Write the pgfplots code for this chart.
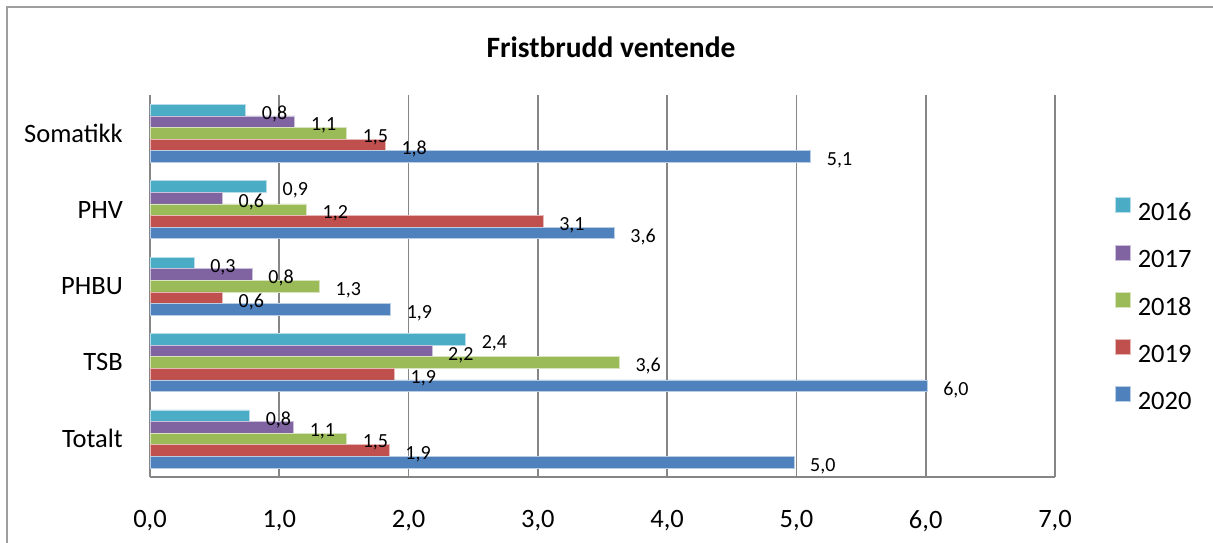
\documentclass[border=0pt]{standalone}
\usepackage{fontspec}
\setmainfont{Carlito}
\usepackage{pgfplots}
\pgfplotsset{compat=1.18}
\definecolor{c16}{HTML}{4BACC6}
\definecolor{c17}{HTML}{8064A2}
\definecolor{c18}{HTML}{9BBB59}
\definecolor{c19}{HTML}{C0504D}
\definecolor{c20}{HTML}{4F81BD}
\definecolor{gridgray}{HTML}{868686}
\newcommand{\bigfont}{\fontsize{26.5}{30}\selectfont}
\newcommand{\labfont}{\fontsize{20}{23}\selectfont}

\begin{document}
\begin{tikzpicture}[x=1pt,y=1pt]
\path[use as bounding box] (0,0) rectangle (1213,-543);
% frame of the chart area
\draw[gridgray!80, line width=1.5pt] (7,-560) -- (7,-7) -- (1230,-7);
\node[font=\fontsize{29.5}{34}\selectfont\bfseries, anchor=center] at (611,-47) {Fristbrudd ventende};

\begin{axis}[
    at={(150pt,-477pt)}, anchor=south west,
    scale only axis,
    width=905pt, height=382pt,
    xbar, bar width=11.6pt,
    xmin=0, xmax=7,
    ymin=-0.5, ymax=4.5,
    axis x line*=bottom, axis y line*=left,
    axis line style={gridgray, line width=1.5pt, -},
    xmajorgrids,
    major grid style={gridgray, line width=1.6pt},
    major tick length=0pt,
    xtick={0,1,...,7},
    ytick={0,1,2,3,4},
    yticklabels={Totalt, TSB, PHBU, PHV, Somatikk},
    /pgf/number format/.cd, fixed, fixed zerofill, precision=1, use comma, assume math mode=true,
    /pgfplots/.cd,
    xticklabel style={font=\bigfont, inner sep=0pt, anchor=north, yshift=-33pt},
    yticklabel style={font=\bigfont, inner sep=0pt, anchor=east, xshift=-27pt},
    point meta=explicit symbolic,
    nodes near coords,
    nodes near coords align={horizontal},
    every node near coord/.append style={font=\labfont, inner sep=0pt, anchor=west, xshift=16pt, yshift=-4pt, text=black},
    legend image code/.code={\fill[#1] (0pt,0pt) rectangle (15pt,15pt);},
    legend style={at={(1.0663,0.733)}, anchor=north west, draw=none, fill=none,
        inner sep=0pt, font=\bigfont, row sep=24pt,
        nodes={inner sep=0pt, text height=16pt, text depth=0pt},
        /tikz/every odd column/.append style={column sep=7pt}},
    legend cell align=left,
]
\addplot[fill=c16, draw=c16!40, line width=0.6pt, bar shift=23.2pt] coordinates {
    (0.77,0) [0,8] (2.44,1) [2,4] (0.34,2) [0,3] (0.90,3) [0,9] (0.74,4) [0,8]};
\addplot[fill=c17, draw=c17!40, line width=0.6pt, bar shift=11.6pt] coordinates {
    (1.11,0) [1,1] (2.18,1) [2,2] (0.79,2) [0,8] (0.56,3) [0,6] (1.12,4) [1,1]};
\addplot[fill=c18, draw=c18!40, line width=0.6pt, bar shift=0pt] coordinates {
    (1.52,0) [1,5] (3.63,1) [3,6] (1.31,2) [1,3] (1.21,3) [1,2] (1.52,4) [1,5]};
\addplot[fill=c19, draw=c19!40, line width=0.6pt, bar shift=-11.6pt] coordinates {
    (1.85,0) [1,9] (1.89,1) [1,9] (0.56,2) [0,6] (3.04,3) [3,1] (1.82,4) [1,8]};
\addplot[fill=c20, draw=c20!40, line width=0.6pt, bar shift=-23.2pt] coordinates {
    (4.98,0) [5,0] (6.01,1) [6,0] (1.86,2) [1,9] (3.59,3) [3,6] (5.11,4) [5,1]};
\legend{2016, 2017, 2018, 2019, 2020}
\end{axis}
\end{tikzpicture}
\end{document}
